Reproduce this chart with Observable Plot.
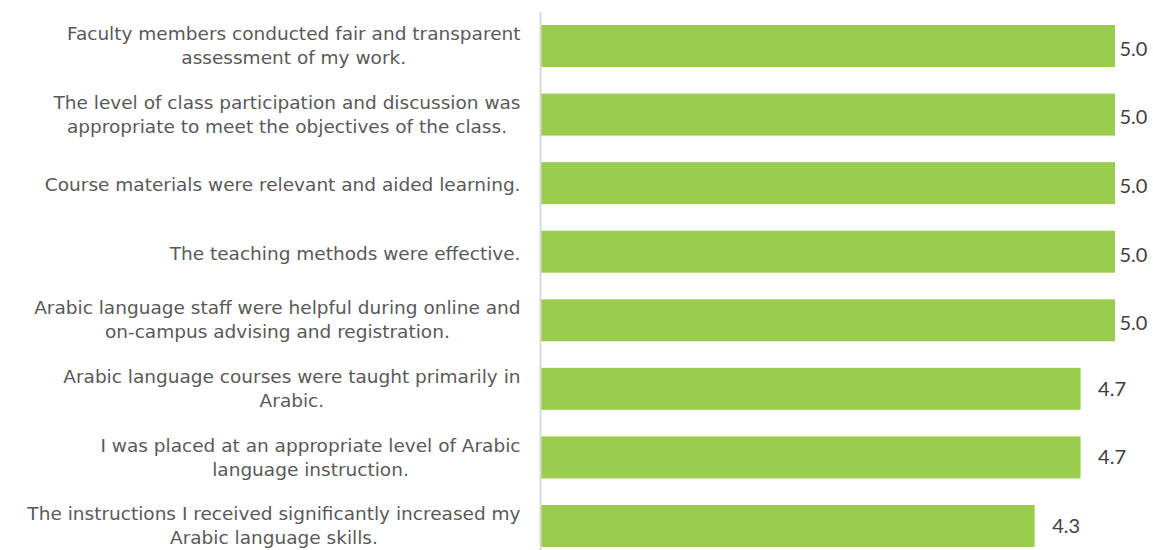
<!DOCTYPE html>
<html>
<head>
<meta charset="utf-8">
<script src="https://cdn.jsdelivr.net/npm/d3@7"></script>
<script src="https://cdn.jsdelivr.net/npm/@observablehq/plot@0.6"></script>
<style>
  html, body { margin: 0; padding: 0; background: #fff; }
  #chart { width: 1153px; height: 550px; }
</style>
</head>
<body>
<div id="chart"></div>
<script>
const categories = [
  "Faculty members conducted fair and transparent\nassessment of my work.",
  "The level of class participation and discussion was\nappropriate to meet the objectives of the class.",
  "Course materials were relevant and aided learning.",
  "The teaching methods were effective.",
  "Arabic language staff were helpful during online and\non-campus advising and registration.",
  "Arabic language courses were taught primarily in\nArabic.",
  "I was placed at an appropriate level of Arabic\nlanguage instruction.",
  "The instructions I received significantly increased my\nArabic language skills."
];
const values = [5.0, 5.0, 5.0, 5.0, 5.0, 4.7, 4.7, 4.3];
const valueLabels = ["5.0", "5.0", "5.0", "5.0", "5.0", "4.7", "4.7", "4.3"];

const data = categories.map((c, i) => ({category: c, value: values[i], label: valueLabels[i]}));

const labelFont = "DejaVu Sans";
const labelSize = 18.5;
const ctx = document.createElement("canvas").getContext("2d");
ctx.font = `${labelSize}px "${labelFont}"`;
const blockWidth = c => d3.max(c.split("\n"), l => ctx.measureText(l).width);

const green = "#9ACD4E";
const textColor = "#595959";

const labelMarks = data.map(d => Plot.text([d], {
  x: () => 0,
  y: "category",
  text: "category",
  textAnchor: "middle",
  lineAnchor: "middle",
  lineHeight: 24 / labelSize,
  dx: -21 - blockWidth(d.category) / 2,
  dy: d.category.includes("\n") ? -2 : 0,
  fill: textColor,
  fontFamily: labelFont,
  fontSize: labelSize
}));

const chart = Plot.plot({
  width: 1153,
  height: 550,
  marginLeft: 541,
  marginRight: 38,
  marginTop: 25,
  marginBottom: 3,
  x: {domain: [0, 5], axis: null},
  y: {domain: categories, paddingInner: 0.3875, paddingOuter: 0, round: false, axis: null},
  style: {background: "#fff"},
  marks: [
    Plot.barX(data, {x: "value", y: "category", fill: green}),
    Plot.ruleX([0], {stroke: "#d9d9d9", strokeWidth: 2, dx: -1, insetTop: -13, insetBottom: -3}),
    ...labelMarks,
    Plot.text(data.filter(d => d.value >= 5), {
      x: "value", y: "category", text: "label", textAnchor: "start", dx: 4, dy: 3,
      fill: "#404040", fontFamily: "Lato", fontSize: 20
    }),
    Plot.text(data.filter(d => d.value < 5), {
      x: "value", y: "category", text: "label", textAnchor: "start", dx: 17,
      fill: "#404040", fontFamily: "Lato", fontSize: 20
    })
  ]
});
document.getElementById("chart").appendChild(chart);
</script>
</body>
</html>
